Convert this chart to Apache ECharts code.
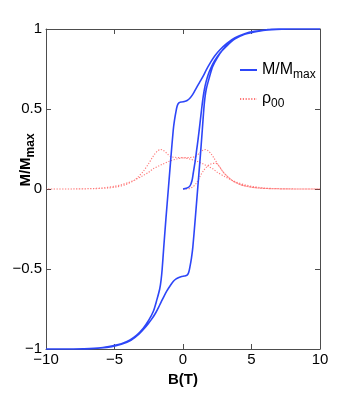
<!DOCTYPE html>
<html><head><meta charset="utf-8">
<script src="https://cdn.jsdelivr.net/npm/echarts/dist/echarts.min.js"></script>
<style>html,body{margin:0;padding:0;background:#fff}#c{width:354px;height:393px}</style>
</head><body><div id="c"></div>
<script>
// ---- data ----
const xTicks = [-10, -5, 0, 5, 10];
const yTicks = [-1, -0.5, 0, 0.5, 1];
const legendNames = ['M/M|max', 'ρ|00'];
const axisNames = ['B(T)', 'M/M|max'];

// magnetisation: initial curve (0 -> 10)
const magInitial = [[0,0],[0.25,0.004],[0.5,0.018],[0.65,0.05],[0.75,0.1],[0.9,0.18],[1.0,0.246],[1.1,0.31],[1.24,0.41],[1.36,0.5],[1.48,0.58],[1.6,0.64],[1.8,0.705],[2.0,0.75],[2.3,0.8],[2.7,0.85],[3.2,0.895],[3.8,0.938],[4.5,0.967],[5.2,0.983],[6,0.994],[7,0.999],[8,1],[10,1]];
// descending field branch (10 -> -10)
const magDown = [[10,1],[8,1],[7,0.999],[6,0.994],[5.2,0.985],[4.5,0.97],[3.8,0.945],[3.2,0.91],[2.7,0.87],[2.3,0.83],[2.0,0.79],[1.7,0.745],[1.5,0.71],[1.2,0.665],[0.9,0.62],[0.7,0.59],[0.5,0.567],[0.3,0.553],[0.1,0.547],[-0.1,0.544],[-0.3,0.538],[-0.42,0.52],[-0.52,0.48],[-0.62,0.43],[-0.71,0.37],[-0.9,0.18],[-1.07,0],[-1.25,-0.19],[-1.41,-0.37],[-1.52,-0.5],[-1.6,-0.57],[-1.7,-0.625],[-1.9,-0.69],[-2.17,-0.766],[-2.5,-0.82],[-2.9,-0.87],[-3.4,-0.915],[-3.87,-0.943],[-4.5,-0.967],[-5.1,-0.979],[-6,-0.992],[-7.3,-0.999],[-8,-1],[-10,-1]];
// ascending field branch (-10 -> 10)
const magUp = [[-10,-1],[-8,-1],[-7,-0.999],[-6,-0.994],[-5.2,-0.985],[-4.5,-0.97],[-3.8,-0.945],[-3.2,-0.905],[-2.7,-0.86],[-2.3,-0.815],[-2.0,-0.775],[-1.7,-0.725],[-1.5,-0.69],[-1.2,-0.64],[-0.9,-0.6],[-0.7,-0.577],[-0.5,-0.562],[-0.3,-0.553],[-0.1,-0.547],[0.1,-0.544],[0.3,-0.538],[0.42,-0.52],[0.52,-0.48],[0.62,-0.43],[0.71,-0.37],[0.9,-0.18],[1.07,0],[1.25,0.19],[1.41,0.37],[1.52,0.5],[1.6,0.57],[1.7,0.625],[1.9,0.69],[2.17,0.766],[2.5,0.82],[2.9,0.87],[3.4,0.915],[3.87,0.943],[4.5,0.967],[5.1,0.979],[6,0.992],[7.3,0.999],[8,1],[10,1]];

// rho00: initial (0 -> 10)
const rhoInitial = [[0,0],[0.25,0.001],[0.5,0.004],[0.75,0.015],[1.0,0.04],[1.25,0.08],[1.5,0.115],[1.75,0.14],[2.0,0.155],[2.2,0.16],[2.4,0.16],[2.6,0.148],[2.9,0.11],[3.3,0.074],[3.7,0.047],[4.2,0.027],[4.8,0.014],[5.5,0.006],[6.5,0.002],[8,0.0003],[10,0]];
// rho00: descending branch (10 -> -10)
const rhoDown = [[10,0],[8,0.0005],[7,0.002],[6,0.006],[5,0.017],[4.5,0.027],[4,0.04],[3.5,0.057],[3,0.08],[2.5,0.105],[2.2,0.125],[1.8,0.143],[1.5,0.155],[1,0.174],[0.5,0.187],[0,0.195],[-0.5,0.197],[-0.9,0.203],[-1.2,0.225],[-1.45,0.242],[-1.65,0.247],[-1.85,0.238],[-2.05,0.22],[-2.25,0.195],[-2.5,0.16],[-2.9,0.11],[-3.3,0.074],[-3.7,0.047],[-4.2,0.027],[-4.8,0.014],[-5.5,0.006],[-6.5,0.002],[-8,0.0003],[-10,0]];
// rho00: ascending branch (-10 -> 10)
const rhoUp = [[-10,0],[-8,0.0005],[-7,0.002],[-6,0.006],[-5,0.017],[-4.5,0.027],[-4,0.04],[-3.5,0.057],[-3,0.08],[-2.5,0.105],[-2.2,0.125],[-1.8,0.143],[-1.5,0.155],[-1,0.174],[-0.5,0.187],[0,0.195],[0.5,0.197],[0.9,0.203],[1.2,0.225],[1.45,0.242],[1.65,0.247],[1.85,0.238],[2.05,0.22],[2.25,0.195],[2.5,0.16],[2.9,0.11],[3.3,0.074],[3.7,0.047],[4.2,0.027],[4.8,0.014],[5.5,0.006],[6.5,0.002],[8,0.0003],[10,0]];

// ---- chart ----
const FONT = '"Liberation Sans", Arial, Helvetica, sans-serif';
const AXIS_COLOR = '#4d4d4d';
const minus = v => (v < 0 ? '\u2212' + Math.abs(v) : String(v));
const sub = s => { const p = s.split('|'); return '{a|' + p[0] + '}{s|' + p[1] + '}'; };

const chart = echarts.init(document.getElementById('c'), null, {renderer: 'canvas'});

function xAx(pos, labels) {
  return {
    type: 'value', position: pos, min: xTicks[0], max: xTicks[xTicks.length - 1], interval: xTicks[1] - xTicks[0],
    axisLine: {show: true, onZero: false, lineStyle: {color: AXIS_COLOR, width: 1}},
    axisTick: {show: true, inside: true, length: 5, lineStyle: {color: AXIS_COLOR}},
    axisLabel: {show: labels, formatter: minus, fontSize: 15, color: '#000', fontFamily: FONT, margin: 3},
    splitLine: {show: false},
    name: labels ? axisNames[0] : '', nameLocation: 'middle', nameGap: 17,
    nameTextStyle: {fontSize: 15, fontWeight: 'bold', color: '#000', fontFamily: FONT}
  };
}
function yAx(pos, labels) {
  return {
    type: 'value', position: pos, min: yTicks[0], max: yTicks[yTicks.length - 1], interval: yTicks[1] - yTicks[0],
    axisLine: {show: true, onZero: false, lineStyle: {color: AXIS_COLOR, width: 1}},
    axisTick: {show: true, inside: true, length: 5, lineStyle: {color: AXIS_COLOR}},
    axisLabel: {show: labels, formatter: minus, fontSize: 15, color: '#000', fontFamily: FONT, margin: 4},
    splitLine: {show: false}
  };
}

chart.setOption({
  animation: false,
  backgroundColor: '#fff',
  grid: {left: 46, right: 34, top: 29, bottom: 44, containLabel: false},
  xAxis: [xAx('bottom', true), xAx('top', false)],
  yAxis: [yAx('left', true), yAx('right', false)],
  legend: {
    orient: 'vertical', left: 234, top: 57, itemGap: 10, itemWidth: 17, itemHeight: 12,
    data: ['M', 'rho'],
    itemStyle: {opacity: 0},
    formatter: n => sub(n === 'M' ? legendNames[0] : legendNames[1]),
    textStyle: {
      color: '#000', fontFamily: FONT, fontSize: 15,
      rich: {
        a: {fontSize: 16, fontFamily: FONT, color: '#000'},
        s: {fontSize: 12, fontFamily: FONT, color: '#000', padding: [10, 0, 0, 0]}
      }
    }
  },
  graphic: [{
    type: 'text', x: 26, y: 160, rotation: Math.PI / 2,
    style: {
      text: sub(axisNames[1]), align: 'center', verticalAlign: 'middle',
      fontFamily: FONT, fontSize: 15, fontWeight: 'bold', fill: '#000',
      rich: {
        a: {fontSize: 15, fontWeight: 'bold', fontFamily: FONT, fill: '#000'},
        s: {fontSize: 12, fontWeight: 'bold', fontFamily: FONT, fill: '#000', padding: [9, 0, 0, 0]}
      }
    }
  }],
  series: [
    {
      name: 'rho', type: 'line', xAxisIndex: 0, yAxisIndex: 0, symbol: 'none', smooth: 0.3, clip: false,
      data: rhoInitial.concat(rhoDown, rhoUp),
      lineStyle: {color: '#ff3030', width: 1.1, type: [1.2, 1.6], opacity: 0.65},
      itemStyle: {color: '#ff3030'}, z: 2
    },
    {
      name: 'M', type: 'line', xAxisIndex: 0, yAxisIndex: 0, symbol: 'none', smooth: 0.3, clip: false,
      data: magInitial.concat(magDown, magUp),
      lineStyle: {color: '#2d46f8', width: 1.6},
      itemStyle: {color: '#2d46f8'}, z: 3
    }
  ]
});
</script>
</body></html>
